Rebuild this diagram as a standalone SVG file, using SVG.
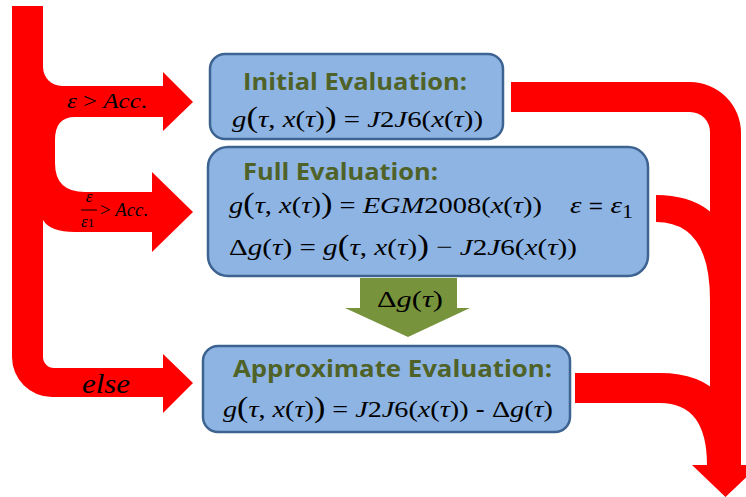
<svg xmlns="http://www.w3.org/2000/svg" width="746" height="497" viewBox="0 0 746 497">
<style>
.red{fill:#ff0000;stroke:none}
.box{fill:#8eb4e3;stroke:#3d6390;stroke-width:2.5}
.title{font-family:"Open Sans","Liberation Sans",sans-serif;font-weight:bold;font-size:24px;fill:#4f6228}
.m{font-family:"Liberation Serif","DejaVu Serif",serif;font-size:24px;fill:#000}
.i{font-style:italic}
.bp{font-size:29px}
.s{font-family:"Liberation Sans",sans-serif}
.lab{font-family:"Liberation Serif","DejaVu Serif",serif;fill:#000}
</style>
<rect width="746" height="497" fill="#ffffff"/>
<g id="connectors">
<path class="red" d="M12,6 L43,6 L43,67 A19,19 0 0 0 62,86 L163,86 L163,72 L193,102 L163,131 L163,117 L75,117 Q55,117 55,140 L55,163 Q55,192 85,192 L152,192 L152,172 L193,212 L152,252 L152,232 L75,232 Q50,232 43,220 L43,357 A11,11 0 0 0 54,368 L163,368 L163,354 L193,383 L163,413 L163,397 L52,397 A40,40 0 0 1 12,357 Z"/>
<path class="red" d="M511,82 L690,82 A51,51 0 0 1 741,133 L741,465 L759,465 L725.5,497 L692,465 L710,465 L710,132 A20,20 0 0 0 690,112 L511,112 Z"/>
<path class="red" d="M656,195 Q741,195 741,300 L710,300 Q710,222 656,222 Z"/>
<path class="red" d="M575,373 L660,373 Q741,373 741,465 L707,465 Q707,403 660,403 L575,403 Z"/>
<path fill="#77933c" d="M360,278 L457,278 L457,308 L470,308 L408,337 L345,308 L360,308 Z"/>
<text class="m" x="377" y="307" textLength="66" lengthAdjust="spacingAndGlyphs">Δ<tspan class="i">g</tspan>(<tspan class="i">τ</tspan>)</text>
<text class="lab" x="67" y="108" font-size="21" textLength="80" lengthAdjust="spacingAndGlyphs"><tspan class="i">ε</tspan> &gt; <tspan class="i">Acc</tspan>.</text>
<text class="lab i" x="89" y="202" font-size="17" text-anchor="middle">ε</text>
<line x1="81" y1="210" x2="97" y2="210" stroke="#000" stroke-width="1"/>
<text class="lab" x="81" y="227" font-size="17"><tspan class="i">ε</tspan><tspan font-size="13">1</tspan></text>
<text class="lab" x="100" y="216" font-size="18" textLength="48" lengthAdjust="spacingAndGlyphs">&gt; <tspan class="i">Acc</tspan>.</text>
<text class="lab i" x="82" y="393" font-size="28" textLength="48" lengthAdjust="spacingAndGlyphs">else</text>
</g>
<g id="initial">
<rect class="box" x="210" y="54" width="293" height="85" rx="15"/>
<text class="title" x="243" y="90" textLength="224" lengthAdjust="spacingAndGlyphs">Initial Evaluation:</text>
<text class="m" x="232" y="127" textLength="251" lengthAdjust="spacingAndGlyphs"><tspan class="i">g</tspan><tspan class="bp">(</tspan><tspan class="i">τ</tspan>, <tspan class="i">x</tspan>(<tspan class="i">τ</tspan>)<tspan class="bp">)</tspan> = <tspan class="i">J</tspan>2<tspan class="i">J</tspan>6(<tspan class="i">x</tspan>(<tspan class="i">τ</tspan>))</text>
</g>
<g id="full">
<rect class="box" x="208" y="147" width="440" height="129" rx="20"/>
<text class="title" x="243" y="180" textLength="195" lengthAdjust="spacingAndGlyphs">Full Evaluation:</text>
<text class="m" x="229" y="213" textLength="313" lengthAdjust="spacingAndGlyphs"><tspan class="i">g</tspan><tspan class="bp">(</tspan><tspan class="i">τ</tspan>, <tspan class="i">x</tspan>(<tspan class="i">τ</tspan>)<tspan class="bp">)</tspan> = <tspan class="i">EGM</tspan>2008(<tspan class="i">x</tspan>(<tspan class="i">τ</tspan>))</text>
<text class="m" x="570" y="213" textLength="63" lengthAdjust="spacingAndGlyphs"><tspan class="i">ε</tspan> <tspan class="s" font-size="20">=</tspan> <tspan class="i">ε</tspan><tspan font-size="18" dy="5">1</tspan></text>
<text class="m" x="229" y="255" textLength="348" lengthAdjust="spacingAndGlyphs">Δ<tspan class="i">g</tspan>(<tspan class="i">τ</tspan>) = <tspan class="i">g</tspan><tspan class="bp">(</tspan><tspan class="i">τ</tspan>, <tspan class="i">x</tspan>(<tspan class="i">τ</tspan>)<tspan class="bp">)</tspan> − <tspan class="i">J</tspan>2<tspan class="i">J</tspan>6(<tspan class="i">x</tspan>(<tspan class="i">τ</tspan>))</text>
</g>
<g id="approximate">
<rect class="box" x="203" y="346" width="367" height="86" rx="15"/>
<text class="title" x="233" y="377" textLength="319" lengthAdjust="spacingAndGlyphs">Approximate Evaluation:</text>
<text class="m" x="223" y="417" textLength="330" lengthAdjust="spacingAndGlyphs"><tspan class="i">g</tspan><tspan class="bp">(</tspan><tspan class="i">τ</tspan>, <tspan class="i">x</tspan>(<tspan class="i">τ</tspan>)<tspan class="bp">)</tspan> = <tspan class="i">J</tspan>2<tspan class="i">J</tspan>6(<tspan class="i">x</tspan>(<tspan class="i">τ</tspan>)) <tspan class="s">-</tspan> Δ<tspan class="i">g</tspan>(<tspan class="i">τ</tspan>)</text>
</g>
</svg>
